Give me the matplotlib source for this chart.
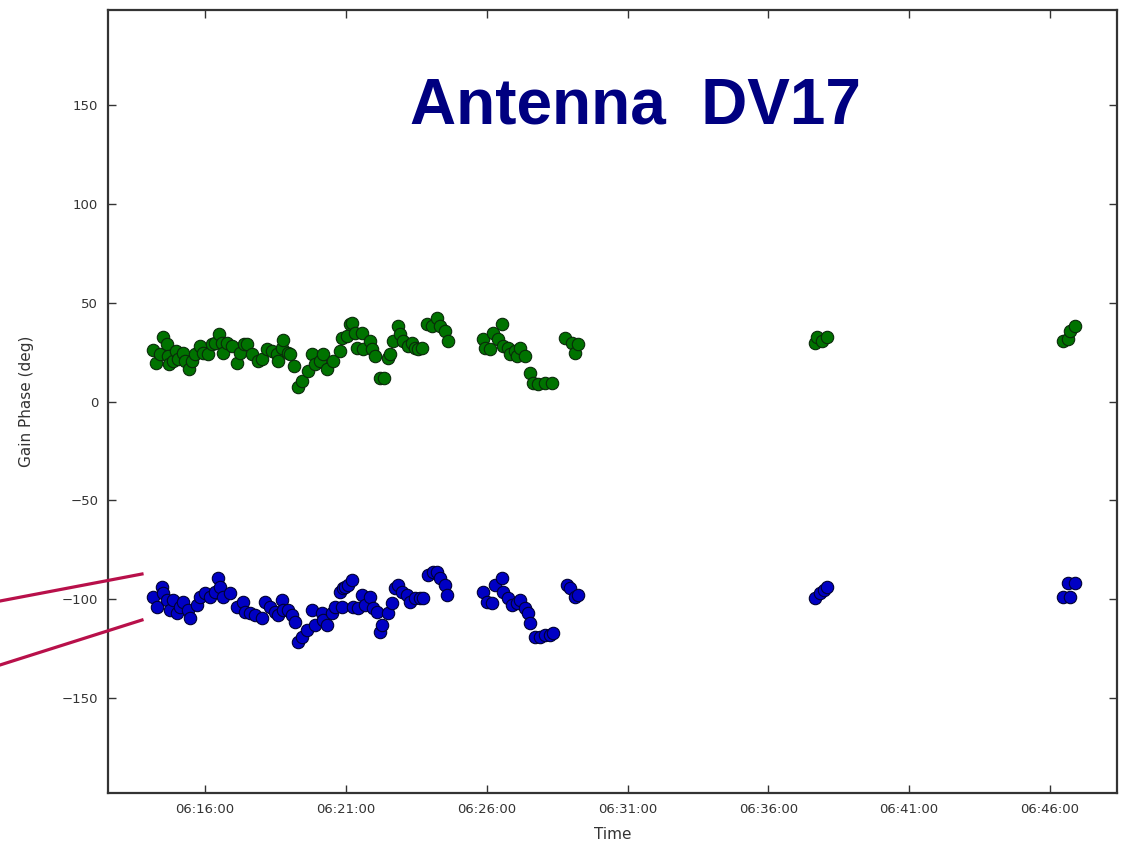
import datetime as dt
import matplotlib
matplotlib.use("Agg")
import matplotlib.pyplot as plt
import matplotlib.dates as mdates
from matplotlib.lines import Line2D

# Solution times (seconds after 06:00:00 UT) and gain phases (deg)
green_t_sec = [
    849, 856, 864, 871, 879, 881, 883, 892, 898, 903, 913, 917, 926, 932, 939,
    949, 956, 966, 975, 981, 990, 996, 998, 1007, 1018, 1028, 1035, 1043, 1050,
    1060, 1073, 1082, 1092, 1103, 1113, 1115, 1124, 1126, 1137, 1141, 1150,
    1158, 1167, 1180, 1188, 1194, 1205, 1212, 1220, 1233, 1248, 1252, 1263,
    1269, 1273, 1280, 1284, 1295, 1297, 1312, 1316, 1322, 1333, 1341, 1350,
    1354, 1361, 1371, 1376, 1382, 1393, 1401, 1408, 1414, 1422, 1433, 1444,
    1454, 1461, 1471, 1478, 1552, 1557, 1567, 1574, 1584, 1593, 1595, 1606,
    1610, 1621, 1625, 1631, 1642, 1653, 1659, 1670, 1685, 1700, 1727, 1742,
    1749, 1755, 2260, 2264, 2275, 2286, 2788, 2799, 2803, 2814,
]
green_phase = [
    26.3, 19.7, 24.2, 32.8, 29.3, 23.2, 19.2, 20.7, 25.8, 21.7, 24.7, 20.7,
    16.7, 20.7, 24.2, 28.3, 24.7, 24.2, 29.3, 29.8, 34.3, 29.8, 24.7, 29.8,
    28.3, 19.7, 24.7, 29.3, 29.3, 24.2, 20.7, 21.7, 26.8, 25.8, 24.2, 20.7,
    27.3, 31.3, 24.7, 24.2, 18.2, 7.6, 10.6, 15.7, 24.2, 19.2, 20.7, 24.2,
    16.7, 20.7, 25.8, 32.3, 33.3, 39.4, 39.9, 34.8, 27.3, 34.8, 26.8, 30.8,
    26.8, 23.2, 12.1, 12.1, 22.2, 24.2, 30.8, 38.4, 34.3, 30.8, 28.3, 29.8,
    27.3, 26.8, 27.3, 39.4, 38.4, 42.4, 38.4, 35.9, 30.8, 31.8, 27.3, 26.8,
    34.8, 31.8, 39.4, 28.3, 27.3, 24.2, 25.8, 23.2, 27.3, 23.2, 14.6, 9.6,
    9.1, 9.6, 9.6, 32.3, 29.8, 24.7, 29.3, 29.8, 32.8, 30.8, 32.8, 30.8,
    31.8, 35.9, 38.4,
]

blue_t_sec = [
    849, 858, 868, 871, 879, 885, 892, 900, 907, 913, 924, 928, 943, 949, 960,
    971, 981, 988, 992, 998, 1013, 1028, 1041, 1045, 1056, 1067, 1082, 1088,
    1099, 1109, 1116, 1124, 1126, 1137, 1145, 1152, 1158, 1167, 1177, 1188,
    1194, 1209, 1212, 1220, 1231, 1237, 1248, 1252, 1254, 1258, 1265, 1273,
    1275, 1286, 1295, 1301, 1312, 1318, 1327, 1333, 1337, 1350, 1359, 1365,
    1371, 1380, 1391, 1397, 1408, 1418, 1425, 1435, 1446, 1454, 1461, 1471,
    1476, 1552, 1561, 1572, 1578, 1593, 1595, 1606, 1614, 1625, 1631, 1642,
    1648, 1653, 1663, 1674, 1685, 1695, 1702, 1731, 1738, 1749, 1755, 2260,
    2271, 2279, 2286, 2788, 2799, 2803, 2814,
]
blue_phase = [
    -99.0, -104.0, -93.9, -97.0, -100.5, -105.5, -100.5, -107.1, -104.0,
    -101.5, -105.5, -109.6, -103.0, -99.0, -97.0, -99.0, -96.5, -89.4, -93.9,
    -99.0, -97.0, -104.0, -101.5, -106.6, -107.1, -108.1, -109.6, -101.5,
    -104.0, -106.6, -108.1, -100.5, -105.5, -105.5, -108.1, -111.6, -121.7,
    -119.2, -115.6, -105.5, -113.1, -107.1, -110.6, -113.1, -107.1, -104.0,
    -96.5, -104.0, -94.4, -93.9, -92.9, -90.4, -104.0, -104.5, -98.0, -103.0,
    -99.0, -104.5, -106.6, -116.7, -113.1, -107.1, -102.0, -94.4, -92.9,
    -96.5, -98.0, -101.5, -99.5, -99.5, -99.5, -87.9, -86.4, -86.4, -89.4,
    -92.9, -98.0, -96.5, -101.5, -102.0, -92.9, -89.4, -96.5, -99.5, -103.0,
    -102.0, -100.5, -104.5, -107.1, -112.1, -119.2, -119.2, -118.2, -118.2,
    -117.2, -92.9, -94.4, -99.0, -98.0, -99.5, -97.0, -95.5, -93.9, -99.0,
    -91.9, -99.0, -91.9,
]

x_ticks_sec = [960, 1260, 1560, 1860, 2160, 2460, 2760]
x_range_sec = [753, 2903]
y_ticks = [-150, -100, -50, 0, 50, 100, 150]
y_range = [-198, 198]

title_text = "Antenna  DV17"

base = dt.datetime(2013, 1, 1, 6, 0, 0)


def to_time(secs):
    return [base + dt.timedelta(seconds=s) for s in secs]


plt.rcParams["font.family"] = ["DejaVu Sans"]

fig = plt.figure(figsize=(11.26, 8.44), dpi=100)
ax = fig.add_axes([0.0959, 0.0604, 0.8961, 0.9276])

ax.scatter(to_time(green_t_sec), green_phase, s=80, c="#007300",
           edgecolors="#0a2a0a", linewidths=0.8, zorder=3)
ax.scatter(to_time(blue_t_sec), blue_phase, s=80, c="#0000c4",
           edgecolors="#000033", linewidths=0.8, zorder=3)

ax.set_xlim(to_time(x_range_sec))
ax.set_ylim(y_range)
ax.set_xticks(to_time(x_ticks_sec))
ax.xaxis.set_major_formatter(mdates.DateFormatter("%H:%M:%S"))
ax.set_yticks(y_ticks)
ax.set_yticklabels(["\u2212%d" % -v if v < 0 else "%d" % v for v in y_ticks])

ax.tick_params(direction="in", length=6, width=1, colors="#333333",
               labelsize=9.5, top=True, right=True, pad=7)
for sp in ax.spines.values():
    sp.set_linewidth(1.6)
    sp.set_color("#333333")

ax.set_xlabel("Time", fontsize=11, color="#333333", labelpad=8)
ax.set_ylabel("Gain Phase (deg)", fontsize=11, color="#333333", labelpad=20)

ax.text(0.523, 0.877, title_text, transform=ax.transAxes, ha="center",
        va="center", fontsize=46, fontweight="bold", color="#000080",
        family=["Liberation Sans", "DejaVu Sans"])

# pointer lines from the slide margin towards the blue points
for (x0, y0, x1, y1) in [(0.0, 0.2879, 0.1261, 0.3199),
                         (0.0, 0.2121, 0.1261, 0.2654)]:
    fig.add_artist(Line2D([x0, x1], [y0, y1], transform=fig.transFigure,
                          color="#b8104a", linewidth=2.3, zorder=10))

fig.savefig("out.png", dpi=100)
